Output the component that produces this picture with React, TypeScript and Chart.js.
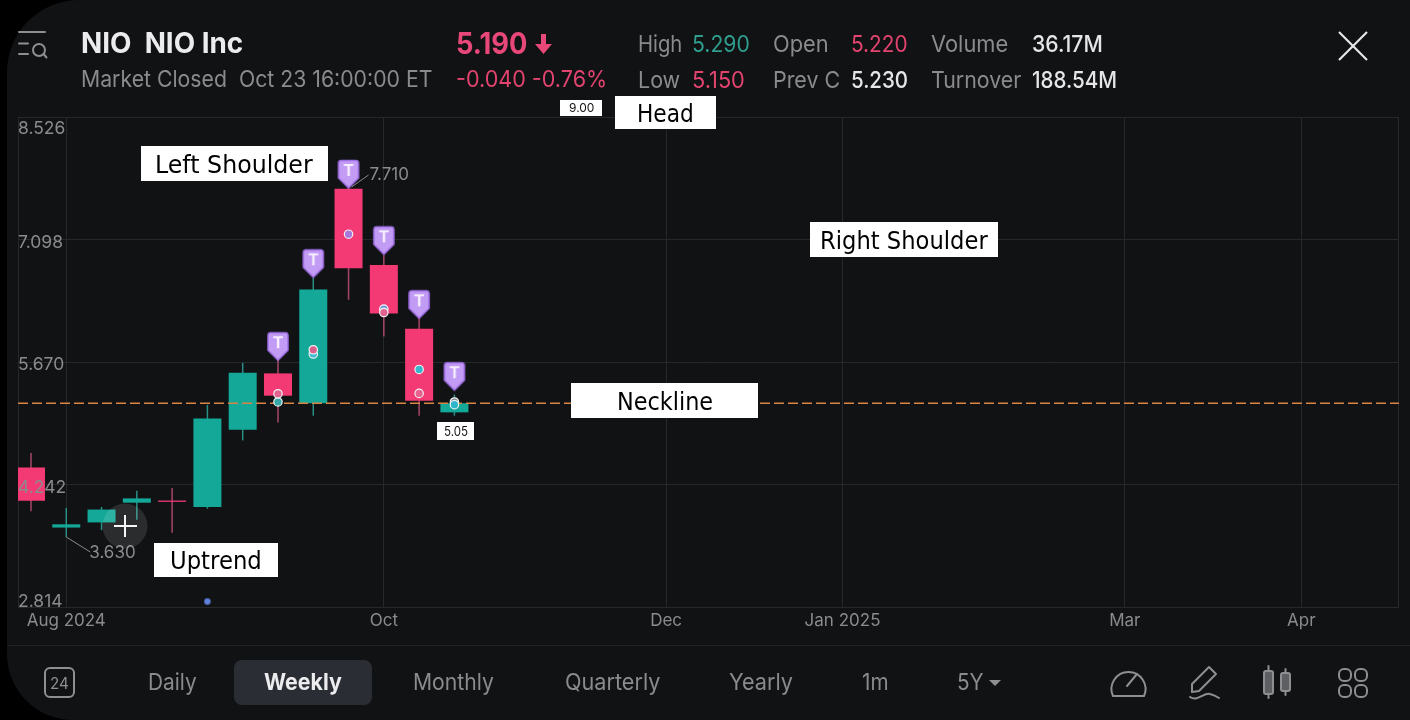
import React, { useEffect, useRef } from "react";
import { Chart, registerables } from "chart.js";

Chart.register(...registerables);

// ---- Data ----
const opens = [4.44, 3.74, 3.8, 4.03, 4.055, 3.98, 4.88, 5.537, 5.19, 7.69, 6.8, 6.057, 5.083];
const closes = [4.054, 3.778, 3.95, 4.08, 4.04, 5.01, 5.545, 5.277, 6.515, 6.764, 6.235, 5.219, 5.19];
const highs = [4.61, 3.97, 3.98, 4.17, 4.2, 5.17, 5.66, 5.7, 6.65, 7.71, 6.92, 6.185, 5.29];
const lows = [3.93, 3.63, 3.71, 3.83, 3.68, 3.96, 4.756, 4.966, 5.044, 6.395, 5.968, 5.044, 5.044];

const yTicks = [2.814, 4.242, 5.67, 7.098, 8.526];
const xTickIndex = [1, 10, 18, 23, 31, 36];
const xTickLabels = ["Aug 2024", "Oct", "Dec", "Jan 2025", "Mar", "Apr"];

const neckline = 5.19;
const newsDotIndex = [5];
const newsDotValue = [2.878];

const pinIndex = [7, 8, 9, 10, 11, 12];
const pinValue = [5.854, 6.82, 7.862, 7.088, 6.343, 5.504];

const markerIndex = [7, 7, 8, 8, 9, 10, 10, 11, 11, 12, 12];
const markerValue = [5.204, 5.3, 5.763, 5.813, 7.16, 6.287, 6.247, 5.583, 5.304, 5.204, 5.172];
const markerColor = ["#35a9a8", "#e0648f", "#3fbccf", "#d9608c", "#a877dc", "#6f9bd8", "#e0648f", "#36b6cc", "#e8628f", "#8a8f94", "#2fb6cc"];

const callouts = [
  { index: 9, value: 7.71, text: "7.710", dx1: 3, dy1: 0, dx2: 20, dy2: -12, tx: 21, ty: -12 },
  { index: 1, value: 3.63, text: "3.630", dx1: 0, dy1: 0, dx2: 24, dy2: 15, tx: 23, ty: 16 },
];

const GREEN = "#14a898";
const RED = "#f43a74";
const GREEN_WICK = "#2a9085";
const RED_WICK = "#a8456a";
const GREY = "#8b8b8e";
const GRID = "#26282c";
const PINK_TEXT = "#e2446f";
const FONT = "Inter, sans-serif";
const HAND = "'DejaVu Sans', sans-serif";

const isUp = (i: number) => closes[i] >= opens[i];

function makePin() {
  const c = document.createElement("canvas");
  c.width = 24;
  c.height = 32;
  const g = c.getContext("2d")!;
  g.beginPath();
  g.moveTo(4.5, 2.5);
  g.lineTo(19.5, 2.5);
  g.quadraticCurveTo(22, 2.5, 22, 5.5);
  g.lineTo(22, 20);
  g.lineTo(12, 30);
  g.lineTo(2, 20);
  g.lineTo(2, 5.5);
  g.quadraticCurveTo(2, 2.5, 4.5, 2.5);
  g.closePath();
  g.fillStyle = "#c29bf4";
  g.fill();
  g.lineWidth = 1.5;
  g.strokeStyle = "#a06fe6";
  g.stroke();
  g.fillStyle = "#f6edff";
  g.font = "700 16px Inter, sans-serif";
  g.textAlign = "center";
  g.textBaseline = "middle";
  g.fillText("T", 12, 13);
  return c;
}

function Txt(props: {
  x: number; x2: number; y: number; size: number; color: string; weight?: number; font?: string; children: React.ReactNode;
}) {
  const { x, x2, y, size, color, weight = 400, font = FONT, children } = props;
  return (
    <div
      ref={(el) => {
        if (el) {
          const w = el.scrollWidth || 1;
          el.style.transform = `translateY(-50%) scaleX(${(x2 - x) / w})`;
        }
      }}
      style={{
        position: "absolute", left: x, top: y, fontSize: size, color, fontWeight: weight, fontFamily: font,
        whiteSpace: "pre", lineHeight: 1, transformOrigin: "left center", transform: "translateY(-50%)",
      }}
    >
      {children}
    </div>
  );
}

function Box(props: { l: number; r: number; t: number; b: number }) {
  return <div style={{ position: "absolute", left: props.l, top: props.t, width: props.r - props.l, height: props.b - props.t, background: "#fff" }} />;
}

export default function App() {
  const ref = useRef<HTMLCanvasElement | null>(null);

  useEffect(() => {
    const idx = opens.map((_, i) => i);
    const calloutPlugin = {
      id: "callouts",
      afterDatasetsDraw(chart: any) {
        const { ctx, scales } = chart;
        ctx.save();
        ctx.font = `17px ${FONT}`;
        ctx.fillStyle = GREY;
        ctx.strokeStyle = "#8b8b8e";
        ctx.lineWidth = 1;
        ctx.textBaseline = "middle";
        ctx.textAlign = "left";
        for (const c of callouts) {
          const px = scales.x.getPixelForValue(c.index);
          const py = scales.y.getPixelForValue(c.value);
          ctx.beginPath();
          ctx.moveTo(px + c.dx1, py + c.dy1);
          ctx.lineTo(px + c.dx2, py + c.dy2);
          ctx.stroke();
          ctx.fillText(c.text, px + c.tx, py + c.ty);
        }
        ctx.restore();
      },
    };
    const framePlugin = {
      id: "frame",
      beforeDatasetsDraw(chart: any) {
        const { ctx, chartArea: a } = chart;
        ctx.save();
        ctx.strokeStyle = GRID;
        ctx.lineWidth = 1;
        ctx.strokeRect(a.left + 0.5, a.top + 0.5, a.right - a.left - 1, a.bottom - a.top);
        ctx.restore();
      },
    };
    const pin = makePin();
    const chart = new Chart(ref.current!, {
      type: "bar",
      data: {
        datasets: [
          {
            type: "bar",
            order: 5,
            data: idx.map((i) => ({ x: i, y: [lows[i], highs[i]] })),
            backgroundColor: idx.map((i) => (isUp(i) ? GREEN_WICK : RED_WICK)),
            barThickness: 1.5,
            grouped: false,
            inflateAmount: 0,
            borderSkipped: false,
          },
          {
            type: "bar",
            order: 4,
            data: idx.map((i) => ({ x: i, y: [opens[i], closes[i]] })),
            backgroundColor: idx.map((i) => (isUp(i) ? GREEN : RED)),
            barThickness: 28,
            grouped: false,
            inflateAmount: 0,
            borderSkipped: false,
          },
          {
            type: "line",
            order: 3,
            data: [
              { x: -0.368, y: neckline },
              { x: 38.77, y: neckline },
            ],
            borderColor: "#d98445",
            borderWidth: 1.5,
            borderDash: [10, 4],
            pointRadius: 0,
          },
          {
            type: "scatter",
            order: 2,
            data: markerIndex.map((x, i) => ({ x, y: markerValue[i] })),
            backgroundColor: markerColor,
            borderColor: "#f2f2f2",
            borderWidth: 1.2,
            pointRadius: 4.2,
          },
          {
            type: "scatter",
            order: 2,
            data: newsDotIndex.map((x, i) => ({ x, y: newsDotValue[i] })),
            backgroundColor: "#5f82dc",
            borderColor: "#3c4f86",
            borderWidth: 1,
            pointRadius: 3.2,
          },
          {
            type: "scatter",
            order: 1,
            data: pinIndex.map((x, i) => ({ x, y: pinValue[i] })),
            pointStyle: pin as any,
            pointRadius: 10,
          },
        ] as any,
      },
      options: {
        animation: false,
        responsive: false,
        events: [],
        layout: { padding: { left: 18, top: 117, right: 10, bottom: 0 } },
        plugins: { legend: { display: false }, tooltip: { enabled: false } },
        scales: {
          x: {
            type: "linear",
            offset: false,
            min: -0.368,
            max: 38.77,
            afterBuildTicks: (s: any) => {
              s.ticks = xTickIndex.map((value) => ({ value }));
            },
            afterFit: (s: any) => {
              s.height = 113;
            },
            grid: { color: GRID, drawTicks: false, lineWidth: 1, offset: false },
            border: { display: false },
            ticks: {
              autoSkip: false,
              maxRotation: 0,
              padding: 4,
              color: GREY,
              font: { family: "Inter", size: 17 },
              callback: (v: any) => xTickLabels[xTickIndex.indexOf(Number(v))] ?? "",
            },
          },
          y: {
            type: "linear",
            min: yTicks[0],
            max: yTicks[yTicks.length - 1],
            afterBuildTicks: (s: any) => {
              s.ticks = yTicks.map((value) => ({ value }));
            },
            grid: { color: GRID, drawTicks: false, lineWidth: 1 },
            border: { display: false },
            ticks: {
              mirror: true,
              padding: 0,
              z: 1,
              labelOffset: 3,
              color: GREY,
              autoSkip: false,
              font: { family: "Inter", size: 17.5, lineHeight: 1 },
              callback: (v: any, i: number) => {
                const t = Number(v).toFixed(3);
                if (i === 0) return [t, ""];
                if (i === yTicks.length - 1) return ["", t];
                return t;
              },
            },
          },
        },
      } as any,
      plugins: [framePlugin, calloutPlugin],
    } as any);
    return () => chart.destroy();
  }, []);

  const stroke = "#8f8f91";
  return (
    <div style={{ position: "fixed", left: 0, top: 0, width: 1410, height: 720, background: "#000", overflow: "hidden" }}>
      <div style={{ position: "absolute", left: 7, top: 0, right: 0, bottom: 0, background: "#111214", borderRadius: "72px 0 0 66px" }} />
      <canvas ref={ref} width={1410} height={720} style={{ position: "absolute", left: 0, top: 0, display: "block" }} />

      {/* Weekly pill */}
      <div style={{ position: "absolute", left: 234, top: 660, width: 138, height: 45, borderRadius: 8, background: "#2a2d33" }} />

      <svg width={1410} height={720} style={{ position: "absolute", left: 0, top: 0 }} fill="none">
        <line x1={8} y1={645.5} x2={1410} y2={645.5} stroke="#1f2124" />
        {/* menu / search */}
        <g stroke={stroke} strokeWidth={2} strokeLinecap="round">
          <line x1={19} y1={32} x2={45} y2={32} />
          <line x1={19} y1={43.5} x2={28} y2={43.5} />
          <line x1={19} y1={54} x2={28} y2={54} />
          <circle cx={39} cy={50} r={6} />
          <line x1={44} y1={54.5} x2={46.5} y2={57.5} />
        </g>
        {/* close */}
        <g stroke="#e8e8e8" strokeWidth={2.2}>
          <line x1={1339} y1={32} x2={1367} y2={60} />
          <line x1={1367} y1={32} x2={1339} y2={60} />
        </g>
        {/* down arrow */}
        <path d="M541 34h5v10h6l-8.500 10-8.500-10h6z" fill="#e8477a" />
        {/* crosshair */}
        <circle cx={125} cy={526} r={22.5} fill="rgba(255,255,255,0.11)" />
        <g stroke="#f5f5f5" strokeWidth={2}>
          <line x1={114} y1={526} x2={137} y2={526} />
          <line x1={125} y1={515} x2={125} y2={537} />
        </g>
        {/* footer icons */}
        <rect x={45} y={668} width={29} height={29} rx={5} stroke={stroke} strokeWidth={2} />
        <g stroke={stroke} strokeWidth={2} strokeLinecap="round" strokeLinejoin="round">
          <path d="M1113 696a17 17 0 1 1 31 0z" />
          <line x1={1127} y1={686} x2={1137} y2={674} />
          <path d="M1192 684l17-17 7 7-17 17-7 1z" />
          <path d="M1190 697c8 5 14-5 20-3 4 1 6 2 9 4" />
          <rect x={1264} y={671} width={9} height={23} rx={2} fill="#5e5f62" />
          <line x1={1268.500} y1={666} x2={1268.500} y2={671} />
          <line x1={1268.500} y1={694} x2={1268.500} y2={698} />
          <rect x={1281} y={673} width={9} height={18} rx={2} fill="#5e5f62" />
          <line x1={1285.500} y1={669} x2={1285.500} y2={673} />
          <line x1={1285.500} y1={691} x2={1285.500} y2={695} />
          <rect x={1339} y={669} width={12} height={12} rx={5} />
          <rect x={1355} y={669} width={12} height={12} rx={5} />
          <rect x={1339} y={685} width={12} height={12} rx={5} />
          <rect x={1355} y={685} width={12} height={12} rx={5} />
        </g>
        <path d="M989 680h12l-6 6z" fill={stroke} />
      </svg>

      {/* Header */}
      <Txt x={81} x2={243} y={43} size={28} weight={700} color="#ececee">{"NIO  NIO Inc"}</Txt>
      <Txt x={81} x2={432} y={79} size={23} color={GREY}>{"Market Closed  Oct 23 16:00:00 ET"}</Txt>
      <Txt x={456} x2={527} y={43} size={30} weight={700} color="#e8477a">5.190</Txt>
      <Txt x={456} x2={607} y={79} size={23} color={PINK_TEXT}>-0.040 -0.76%</Txt>
      <Txt x={638} x2={682} y={44} size={23} color={GREY}>High</Txt>
      <Txt x={692} x2={750} y={44} size={23} color="#2f9e8f">5.290</Txt>
      <Txt x={773} x2={829} y={44} size={23} color={GREY}>Open</Txt>
      <Txt x={851} x2={908} y={44} size={23} color={PINK_TEXT}>5.220</Txt>
      <Txt x={931} x2={1008} y={44} size={23} color={GREY}>Volume</Txt>
      <Txt x={1032} x2={1103} y={44} size={23} weight={500} color="#e6e6e8">36.17M</Txt>
      <Txt x={638} x2={680} y={80} size={23} color={GREY}>Low</Txt>
      <Txt x={692} x2={745} y={80} size={23} color={PINK_TEXT}>5.150</Txt>
      <Txt x={773} x2={840} y={80} size={23} color={GREY}>Prev C</Txt>
      <Txt x={851} x2={908} y={80} size={23} weight={500} color="#e6e6e8">5.230</Txt>
      <Txt x={931} x2={1021} y={80} size={23} color={GREY}>Turnover</Txt>
      <Txt x={1032} x2={1117} y={80} size={23} weight={500} color="#e6e6e8">188.54M</Txt>

      {/* Footer */}
      <Txt x={50} x2={69} y={683} size={16} color={stroke}>24</Txt>
      <Txt x={148} x2={197} y={682} size={23} color={GREY}>Daily</Txt>
      <Txt x={264} x2={342} y={682} size={23} weight={700} color="#ececee">Weekly</Txt>
      <Txt x={413} x2={494} y={682} size={23} color={GREY}>Monthly</Txt>
      <Txt x={565} x2={660} y={682} size={23} color={GREY}>Quarterly</Txt>
      <Txt x={729} x2={793} y={682} size={23} color={GREY}>Yearly</Txt>
      <Txt x={862} x2={889} y={682} size={23} color={GREY}>1m</Txt>
      <Txt x={957} x2={984} y={682} size={23} color={GREY}>5Y</Txt>

      {/* Annotation boxes */}
      <Box l={560} r={602} t={100} b={116} />
      <Txt x={569} x2={594} y={108} size={12} color="#111">9.00</Txt>
      <Box l={615} r={716} t={96} b={129} />
      <Txt x={637} x2={694} y={114} size={24} font={HAND} color="#000">Head</Txt>
      <Box l={141} r={328} t={146} b={181} />
      <Txt x={155} x2={313} y={165} size={24} font={HAND} color="#000">Left Shoulder</Txt>
      <Box l={810} r={998} t={222} b={257} />
      <Txt x={820} x2={988} y={241} size={24} font={HAND} color="#000">Right Shoulder</Txt>
      <Box l={571} r={758} t={383} b={418} />
      <Txt x={617} x2={713} y={402} size={24} font={HAND} color="#000">Neckline</Txt>
      <Box l={154} r={278} t={543} b={577} />
      <Txt x={170} x2={262} y={561} size={24} font={HAND} color="#000">Uptrend</Txt>
      <Box l={437} r={474} t={422} b={440} />
      <Txt x={444} x2={468} y={431} size={13} color="#111">5.05</Txt>
    </div>
  );
}
